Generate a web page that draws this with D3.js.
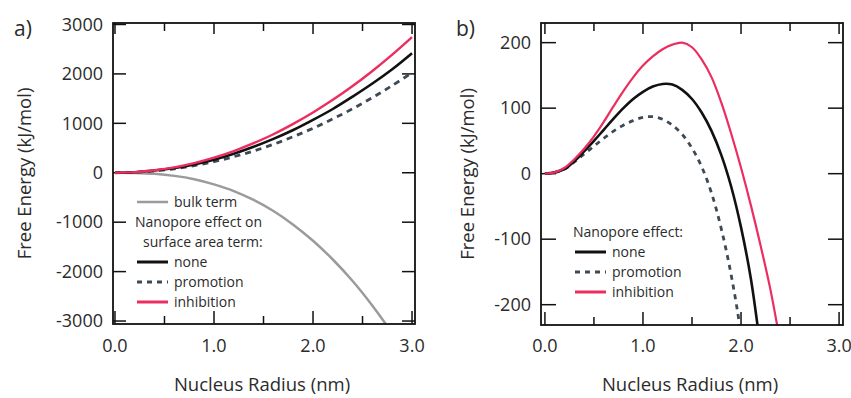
<!DOCTYPE html>
<html>
<head>
<meta charset="utf-8">
<script src="https://cdn.jsdelivr.net/npm/d3@7"></script>
<style>
  body { margin: 0; background: #fff; }
  svg text { font-family: "Open Sans", "Noto Sans", sans-serif; fill: #2b2b2b; }
</style>
</head>
<body>
<svg id="chart" width="851" height="398"></svg>
<script>
// panel a) surface area terms and bulk term (kJ/mol)
const radiusA = [0, 0.2, 0.4, 0.6, 0.8, 1.0, 1.2, 1.4, 1.6, 1.8, 2.0, 2.2, 2.4, 2.6, 2.8, 3.0];
const bulkTerm = [0, -4, -22, -63, -130, -235, -370, -550, -775, -1050, -1375, -1755, -2190, -2690, -3250, -3880];
const surfNone = [0, 10, 45, 95, 170, 265, 385, 525, 685, 865, 1070, 1290, 1540, 1805, 2095, 2420];
const surfPromotion = [0, 9, 36, 80, 145, 225, 325, 440, 575, 730, 900, 1090, 1295, 1520, 1765, 2025];
const surfInhibition = [0, 12, 50, 110, 195, 305, 440, 600, 780, 990, 1220, 1475, 1755, 2060, 2390, 2745];

// panel b) total free energy
const radiusB = [0, 0.1, 0.2, 0.3, 0.4, 0.5, 0.6, 0.7, 0.8, 0.9, 1.0, 1.1, 1.2, 1.3, 1.4, 1.5, 1.6, 1.7, 1.8, 1.9, 2.0, 2.1, 2.2, 2.3, 2.4];
const totalNone = [0, 2, 7, 19, 34, 50, 67, 84, 100, 114, 125, 133, 137, 136, 128, 114, 93, 65, 28, -20, -82, -160, -268, -390, -530];
const totalPromotion = [0, 2, 7, 18, 30, 42, 54, 65, 74, 81, 86, 87, 83, 74, 60, 39, 10, -30, -85, -155, -245, -360, -480, -610, -750];
const totalInhibition = [0, 2, 9, 22, 38, 57, 79, 103, 126, 147, 165, 179, 190, 197, 200, 193, 174, 147, 108, 61, 9, -48, -110, -177, -258];

const xTicks = [0, 0.5, 1, 1.5, 2, 2.5, 3];
const xTickLabels = ["0.0", "1.0", "2.0", "3.0"];
const yTicksA = [-3000, -2000, -1000, 0, 1000, 2000, 3000];
const yTicksB = [-200, -100, 0, 100, 200];

const legendA = ["bulk term", "Nanopore effect on", "surface area term:", "none", "promotion", "inhibition"];
const legendB = ["Nanopore effect:", "none", "promotion", "inhibition"];

const red = "#ec2d5f", dashColor = "#3d4955", bulkColor = "#9b9b9b";

const svg = d3.select("#chart");

function drawPanel(p) {
  const x = d3.scaleLinear().domain(p.xDomain).range([p.left, p.right]);
  const y = d3.scaleLinear().domain(p.yDomain).range([p.bottom, p.top]);
  const g = svg.append("g");

  g.append("clipPath").attr("id", p.id + "clip")
    .append("rect").attr("x", p.left).attr("y", p.top)
    .attr("width", p.right - p.left).attr("height", p.bottom - p.top);

  //ticks pointing inward on all four sides
  xTicks.forEach(t => {
    const major = Number.isInteger(t);
    g.append("line").attr("x1", x(t)).attr("x2", x(t)).attr("y1", p.bottom).attr("y2", p.bottom - (major ? 13 : 8))
      .attr("stroke", "#111").attr("stroke-width", 1.5);
    g.append("line").attr("x1", x(t)).attr("x2", x(t)).attr("y1", p.top).attr("y2", p.top + (major ? 11 : 8))
      .attr("stroke", "#111").attr("stroke-width", 1.5);
  });
  p.yTicks.forEach(t => {
    g.append("line").attr("x1", p.left).attr("x2", p.left + p.yTickLen).attr("y1", y(t)).attr("y2", y(t))
      .attr("stroke", "#111").attr("stroke-width", 1.5);
    g.append("line").attr("x1", p.right).attr("x2", p.right - p.yTickLen).attr("y1", y(t)).attr("y2", y(t))
      .attr("stroke", "#111").attr("stroke-width", 1.5);
  });

  //tick labels
  g.selectAll(".xl").data(xTickLabels).enter().append("text")
    .attr("x", d => x(+d)).attr("y", 352)
    .attr("text-anchor", "middle").attr("font-size", 18)
    .text(d => d);
  g.selectAll(".yl").data(p.yTicks).enter().append("text")
    .attr("x", p.left - 10).attr("y", d => y(d)).attr("dy", "0.35em")
    .attr("text-anchor", "end").attr("font-size", 18)
    .text(d => d);

  //axis titles
  g.append("text").attr("x", (p.left + p.right) / 2 - 2).attr("y", 391)
    .attr("text-anchor", "middle").attr("font-size", 18.5)
    .text("Nucleus Radius (nm)");
  g.append("text").attr("transform", `translate(${p.yTitleX},${(p.top + p.bottom) / 2}) rotate(-90)`)
    .attr("text-anchor", "middle").attr("font-size", 18.5)
    .text("Free Energy (kJ/mol)");
  g.append("text").attr("x", p.panelX).attr("y", 36).attr("font-size", 21).text(p.panel);

  //curves
  const curves = g.append("g").attr("clip-path", `url(#${p.id}clip)`);
  p.series.forEach(s => {
    const line = d3.line().x((d, i) => x(p.radius[i])).y(d => y(d)).curve(d3.curveCatmullRom.alpha(0.5));
    curves.append("path").datum(s.values)
      .attr("d", line).attr("fill", "none")
      .attr("stroke", s.color).attr("stroke-width", s.width)
      .attr("stroke-dasharray", s.dash || null);
  });

  //frame
  g.append("rect").attr("x", p.left).attr("y", p.top)
    .attr("width", p.right - p.left).attr("height", p.bottom - p.top)
    .attr("fill", "none").attr("stroke", "#111").attr("stroke-width", 1.8);

  return { x, y, g };
}

const a = drawPanel({
  id: "a", panel: "a)", panelX: 14, yTitleX: 31,
  left: 113, right: 415, top: 23, bottom: 324,
  xDomain: [-0.02, 3.03], yDomain: [-3060, 3030], yTicks: yTicksA, yTickLen: 13,
  radius: radiusA,
  series: [
    { values: bulkTerm, color: bulkColor, width: 2.5 },
    { values: surfPromotion, color: dashColor, width: 2.8, dash: "6,5" },
    { values: surfNone, color: "#111", width: 2.6 },
    { values: surfInhibition, color: red, width: 2.4 }
  ]
});

const b = drawPanel({
  id: "b", panel: "b)", panelX: 456, yTitleX: 474,
  left: 541, right: 843, top: 23, bottom: 325,
  xDomain: [-0.04, 3.04], yDomain: [-231, 230], yTicks: yTicksB, yTickLen: 15,
  radius: radiusB,
  series: [
    { values: totalPromotion, color: dashColor, width: 2.8, dash: "5,5" },
    { values: totalNone, color: "#111", width: 2.6 },
    { values: totalInhibition, color: red, width: 2.2 }
  ]
});

//legends
function legendRow(g, x0, yy, label, color, dash, width) {
  g.append("line").attr("x1", x0).attr("x2", x0 + 31).attr("y1", yy).attr("y2", yy)
    .attr("stroke", color).attr("stroke-width", width).attr("stroke-dasharray", dash || null);
  g.append("text").attr("x", x0 + 37).attr("y", yy).attr("dy", "0.35em")
    .attr("font-size", 14).attr("fill", "#3a3a3a").text(label);
}

legendRow(a.g, 137, 202, legendA[0], bulkColor, null, 2.5);
a.g.append("text").attr("x", 135).attr("y", 222).attr("dy", "0.35em").attr("font-size", 14).text(legendA[1]);
a.g.append("text").attr("x", 143).attr("y", 242).attr("dy", "0.35em").attr("font-size", 14).text(legendA[2]);
legendRow(a.g, 137, 262, legendA[3], "#111", null, 3);
legendRow(a.g, 137, 282, legendA[4], dashColor, "5,5", 3);
legendRow(a.g, 137, 302, legendA[5], red, null, 3);

b.g.append("text").attr("x", 573).attr("y", 232).attr("dy", "0.35em").attr("font-size", 14).text(legendB[0]);
legendRow(b.g, 575, 252, legendB[1], "#111", null, 3);
legendRow(b.g, 575, 272, legendB[2], dashColor, "5,5", 3);
legendRow(b.g, 575, 292, legendB[3], red, null, 3);
</script>
</body>
</html>
